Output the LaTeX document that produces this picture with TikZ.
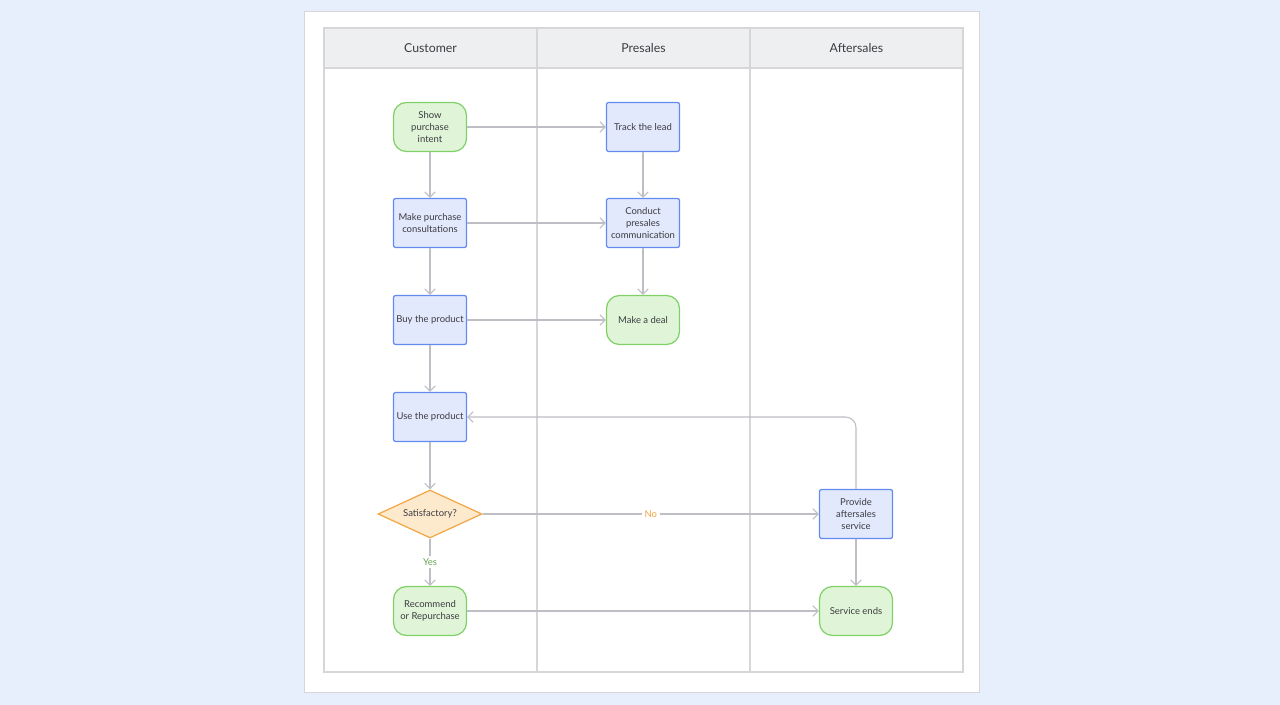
\documentclass[tikz,border=0pt]{standalone}
\usepackage{fontspec}
\setmainfont{Lato}
\usetikzlibrary{arrows.meta,shapes.geometric,positioning}
\definecolor{pagebg}{RGB}{232,239,252}
\definecolor{headbg}{RGB}{238,239,241}
\definecolor{laneline}{RGB}{214,214,216}
\definecolor{edgecol}{RGB}{190,190,196}
\definecolor{procfill}{RGB}{226,233,252}
\definecolor{procdraw}{RGB}{100,138,240}
\definecolor{termfill}{RGB}{224,245,215}
\definecolor{termdraw}{RGB}{128,208,104}
\definecolor{decfill}{RGB}{253,234,205}
\definecolor{decdraw}{RGB}{242,166,70}
\definecolor{txt}{RGB}{60,60,66}
\tikzset{
  proc/.style={draw=procdraw, fill=procfill, line width=0.7pt, rounded corners=1.2pt,
    minimum width=73*0.02cm, minimum height=49*0.02cm, align=center, inner sep=1pt,
    text=txt, font=\fontsize{5.4}{7}\selectfont},
  term/.style={proc, draw=termdraw, fill=termfill, rounded corners=13*0.02cm},
  dec/.style={diamond, aspect=2.15, draw=decdraw, fill=decfill, line width=0.7pt,
    minimum width=104*0.02cm, minimum height=48*0.02cm, inner sep=0pt,
    text=txt, font=\fontsize{5.4}{7}\selectfont},
  flow/.style={draw=edgecol, line width=0.6pt, -{Straight Barb[length=3pt,width=6pt]}},
  lbl/.style={fill=white, inner sep=1.5pt, font=\fontsize{5.4}{7}\selectfont},
  lane/.style={text=txt, font=\fontsize{7}{8}\selectfont}
}
\begin{document}
\begin{tikzpicture}[x=0.02cm, y=-0.02cm]
    % Background and card
    \fill[pagebg] (0,0) rectangle (1280,705);
    \fill[white] (304,11) rectangle (979,692);
    \draw[laneline] (304,11) rectangle (979,692);

    % Swimlanes
    \fill[headbg] (324,28) rectangle (963,68);
    \draw[laneline, line width=0.7pt] (324,28) rectangle (963,672);
    \draw[laneline, line width=0.7pt] (324,68) -- (963,68);
    \draw[laneline, line width=0.7pt] (537,28) -- (537,672);
    \draw[laneline, line width=0.7pt] (750,28) -- (750,672);
    \node[lane] (hcust) at (430.5,48) {Customer};
    \node[lane] (hpre) at (643.5,48) {Presales};
    \node[lane] (haft) at (856.5,48) {Aftersales};

    % Customer lane
    \node[term] (show) at (430,127) {Show\\purchase\\intent};
    \node[proc] (consult) at (430,223) {Make purchase\\consultations};
    \node[proc] (buy) at (430,320) {Buy the product};
    \node[proc] (use) at (430,417) {Use the product};
    \node[dec] (sat) at (430,514) {Satisfactory?};
    \node[term] (rec) at (430,611) {Recommend\\or Repurchase};

    % Presales lane
    \node[proc] (track) at (643,127) {Track the lead};
    \node[proc] (conduct) at (643,223) {Conduct\\presales\\communication};
    \node[term] (deal) at (643,320) {Make a deal};

    % Aftersales lane
    \node[proc] (provide) at (856,514) {Provide\\aftersales\\service};
    \node[term] (ends) at (856,611) {Service ends};

    % Connectors
    \draw[flow] (show) -- (track);
    \draw[flow] (show) -- (consult);
    \draw[flow] (track) -- (conduct);
    \draw[flow] (consult) -- (conduct);
    \draw[flow] (consult) -- (buy);
    \draw[flow] (conduct) -- (deal);
    \draw[flow] (buy) -- (deal);
    \draw[flow] (buy) -- (use);
    \draw[flow] (use) -- (sat);
    \draw[flow] (sat) -- node[lbl, text=decdraw]{No} (provide);
    \draw[flow] (sat) -- node[lbl, text=termdraw!80!black]{Yes} (rec);
    \draw[flow] (provide) -- (ends);
    \draw[flow] (rec) -- (ends);
    \draw[flow, rounded corners=6pt] (provide.north) |- (use.east);
\end{tikzpicture}
\end{document}
